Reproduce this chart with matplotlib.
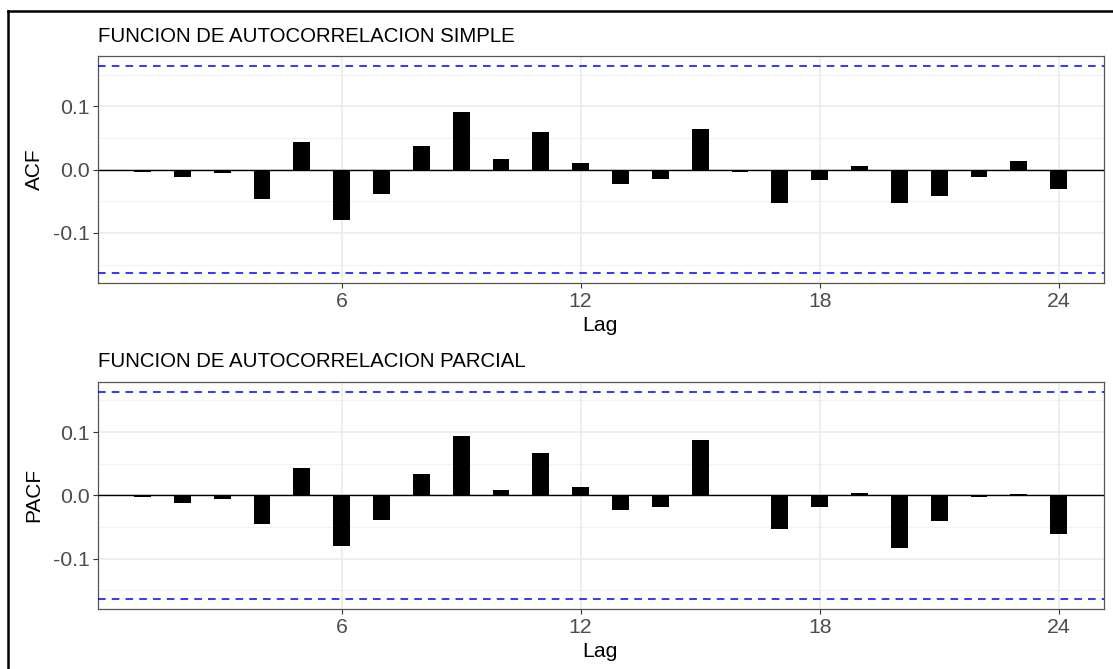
import matplotlib
matplotlib.use("Agg")
import matplotlib.pyplot as plt
from matplotlib.lines import Line2D
import numpy as np

plt.rcParams['font.family'] = ['Liberation Sans', 'DejaVu Sans']

lags = list(range(1, 25))
acf_vals = [-0.003, -0.012, -0.005, -0.046, 0.044, -0.079, -0.039, 0.038,
            0.0905, 0.017, 0.060, 0.0105, -0.023, -0.015, 0.064, -0.004,
            -0.053, -0.016, 0.005, -0.053, -0.042, -0.012, 0.014, -0.031]
pacf_vals = [-0.003, -0.0115, -0.005, -0.046, 0.044, -0.080, -0.039, 0.034,
             0.094, 0.009, 0.067, 0.013, -0.023, -0.019, 0.088, 0.0005,
             -0.053, -0.019, 0.003, -0.083, -0.040, -0.003, 0.002, -0.061]
ci = 0.1633
titles = ["FUNCION DE AUTOCORRELACION SIMPLE", "FUNCION DE AUTOCORRELACION PARCIAL"]
ylabels = ["ACF", "PACF"]
xticks = [6, 12, 18, 24]
yticks = [-0.1, 0.0, 0.1]
yminor = [-0.15, -0.05, 0.05, 0.15]

W, H = 1113, 669
fig = plt.figure(figsize=(W / 100, H / 100), dpi=100)

L, R = 98.3, 1103.7

def box(l, t, r, b):
    return [l / W, 1 - b / H, (r - l) / W, (b - t) / H]

panels = [
    ((56, 283.3), acf_vals, 36.7),
    ((381.7, 609), pacf_vals, 361.7),
]

for i, ((top, bot), vals, ty) in enumerate(panels):
    ax = fig.add_axes(box(L, top, R, bot))
    ah = bot - top
    ylim = ci * 1.1
    ax.set_xlim(-0.11, 25.13)
    ax.set_ylim(-ylim, ylim)
    ax.set_axisbelow(True)
    for y in yminor:
        ax.axhline(y, color='#F2F2F2', lw=0.8, zorder=0)
    for y in yticks:
        ax.axhline(y, color='#EBEBEB', lw=1.2, zorder=0)
    for x in xticks:
        ax.axvline(x, color='#EBEBEB', lw=1.2, zorder=0)
    ax.bar(lags, vals, width=0.42, color='black', zorder=2)
    ax.axhline(0, color='black', lw=1.0, zorder=3)
    ax.axhline(ci, color='blue', lw=1.1, ls=(0, (5, 4)), zorder=3)
    ax.axhline(-ci, color='blue', lw=1.1, ls=(0, (5, 4)), zorder=3)
    ax.set_xticks(xticks)
    ax.set_xticklabels([str(x) for x in xticks])
    ax.set_yticks(yticks)
    ax.set_yticklabels(["-0.1", "0.0", "0.1"])
    ax.tick_params(axis='both', colors='#333333', labelcolor='#4D4D4D',
                   labelsize=15.3, length=3.5, width=0.8, pad=3)
    for s in ax.spines.values():
        s.set_color('#555555')
        s.set_linewidth(0.9)
    ax.set_ylabel(ylabels[i], fontsize=15, color='black')
    ax.yaxis.set_label_coords((34 - L) / (R - L), 0.5)
    ax.yaxis.label.set_va('center')
    ax.yaxis.label.set_ha('center')
    ax.yaxis.label.set_rotation_mode('default')
    ax.set_xlabel("Lag", fontsize=15.3, color='black')
    ax.xaxis.set_label_coords((600 - L) / (R - L), -42.5 / ah)
    ax.xaxis.label.set_va('center')
    fig.text(L / W, 1 - ty / H, titles[i], fontsize=14.65, color='black',
             ha='left', va='center')

# outer frame
fig.add_artist(Line2D([8.3 / W, 8.3 / W], [0, 1 - 11 / H], color='black', lw=1.8))
fig.add_artist(Line2D([8.3 / W, 1], [1 - 11 / H, 1 - 11 / H], color='black', lw=1.8))

fig.savefig("out.png", dpi=100, facecolor='white')
